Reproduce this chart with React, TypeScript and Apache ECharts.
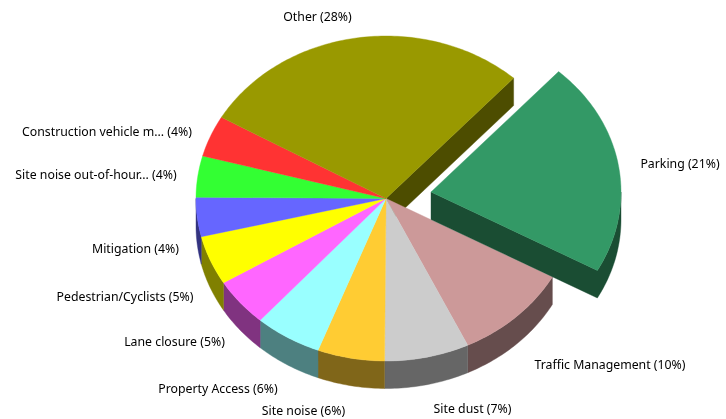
import React, { useEffect, useRef } from "react";
import * as echarts from "echarts";

// Slice order runs clockwise, starting from the exploded slice.
const categories = [
  "Parking",
  "Traffic Management",
  "Site dust",
  "Site noise",
  "Property Access",
  "Lane closure",
  "Pedestrian/Cyclists",
  "Mitigation",
  "Site noise out-of-hour...",
  "Construction vehicle m...",
  "Other",
];
const shares = [21.3, 9.9, 7.2, 5.7, 5.7, 4.8, 4.9, 3.9, 4.1, 4.1, 28.4];
const topColors = ["#339966", "#cc9999", "#cccccc", "#ffcc33", "#99ffff", "#ff66ff", "#ffff00", "#6666ff", "#33ff33", "#ff3333", "#999900"];
const wallColors = ["#1a4d33", "#664d4d", "#666666", "#806619", "#4d8080", "#803380", "#808000", "#333380", "#1a801a", "#801a1a", "#4d4d00"];
// Label centres, in the same order as the categories.
const labelCentres = [
  [680, 163], [610, 364], [472.5, 408], [303.5, 410], [218, 388], [174.5, 341],
  [125, 296], [135.5, 248], [96, 174], [107, 131], [317.5, 16],
];

const CX = 386;
const CY = 198.5;
const RX = 190;
const RY = 162.5;
const DEPTH = 27.5;
const START_DEG = 42.2;
const EXPLODE = [45, -6.5];
const FONT = "12.3px 'Noto Sans', sans-serif";

const total = shares.reduce((a, b) => a + b, 0);
const rimPoint = (deg: number, ox: number, oy: number, dy = 0) => {
  const r = (deg * Math.PI) / 180;
  return [CX + ox + RX * Math.sin(r), CY + oy - RY * Math.cos(r) + dy];
};
const arc = (a: number, b: number, ox: number, oy: number, dy = 0) => {
  const n = Math.max(2, Math.ceil(Math.abs(b - a)));
  const pts: number[][] = [];
  for (let i = 0; i <= n; i++) pts.push(rimPoint(a + ((b - a) * i) / n, ox, oy, dy));
  return pts;
};

function renderSlice(params: any, api: any) {
  const i = params.dataIndex;
  const before = shares.slice(0, i).reduce((a, b) => a + b, 0);
  const a0 = START_DEG + (before / total) * 360;
  const a1 = a0 + (api.value(0) / total) * 360;
  const exploded = i === 0;
  const ox = exploded ? EXPLODE[0] : 0;
  const oy = exploded ? EXPLODE[1] : 0;
  const zBase = exploded ? 10 : 0;
  const children: any[] = [];
  const wallStyle = { fill: wallColors[i], stroke: wallColors[i], lineWidth: 0.4 };
  const topStyle = { fill: topColors[i], stroke: topColors[i], lineWidth: 0.4 };
  const c = [CX + ox, CY + oy];

  // Curved outer wall: only the part on the front half of the ellipse shows.
  const w0 = Math.max(a0, 90);
  const w1 = Math.min(a1, 270);
  if (exploded) {
    // Cut face and curved wall of the exploded slice form one outline.
    children.push({
      type: "polygon",
      z2: zBase + 1,
      shape: { points: [c, ...arc(a1, w0, ox, oy), ...arc(w0, a1, ox, oy, DEPTH), [c[0], c[1] + DEPTH]] },
      style: wallStyle,
    });
  } else if (w1 > w0) {
    children.push({
      type: "polygon",
      z2: zBase + 1,
      shape: { points: [...arc(w0, w1, ox, oy), ...arc(w1, w0, ox, oy, DEPTH)] },
      style: wallStyle,
    });
  }
  // Cut face left open beside the exploded slice.
  if (i === shares.length - 1) {
    const p = rimPoint(a1, ox, oy);
    children.push({
      type: "polygon",
      z2: zBase + 1,
      shape: { points: [c, p, [p[0], p[1] + DEPTH], [c[0], c[1] + DEPTH]] },
      style: wallStyle,
    });
  }
  children.push({
    type: "polygon",
    z2: zBase + 2,
    shape: { points: [c, ...arc(a0, a1, ox, oy)] },
    style: topStyle,
  });
  children.push({
    type: "text",
    z2: 30,
    style: {
      text: `${categories[i]} (${Math.round((api.value(0) / total) * 100)}%)`,
      x: labelCentres[i][0],
      y: labelCentres[i][1],
      align: "center",
      verticalAlign: "middle",
      font: FONT,
      fill: "#000",
    },
  });
  return { type: "group", children };
}

export default function App() {
  const ref = useRef<HTMLDivElement>(null);
  useEffect(() => {
    const chart = echarts.init(ref.current!, null, { renderer: "svg" });
    chart.setOption({
      animation: false,
      backgroundColor: "#ffffff",
      series: [
        {
          type: "custom",
          coordinateSystem: "none",
          renderItem: renderSlice,
          silent: true,
          clip: false,
          data: shares.map((v) => [v]),
        },
      ],
    });
    return () => chart.dispose();
  }, []);
  return <div ref={ref} style={{ position: "fixed", left: 0, top: 0, width: 726, height: 419, filter: "blur(0.35px)" }} />;
}
